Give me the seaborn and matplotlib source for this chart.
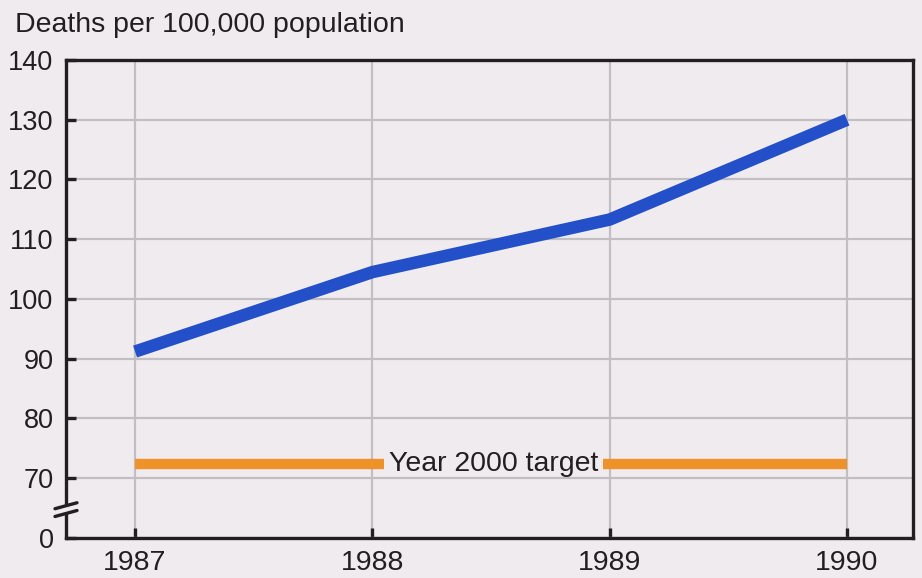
import matplotlib
matplotlib.use("Agg")
import matplotlib.pyplot as plt
import seaborn as sns
import pandas as pd

# Death rate per 100,000 population, 1987-1990
years = [1987, 1988, 1989, 1990]
deaths = [91.2, 104.5, 113.3, 130.0]

# Year 2000 target level
target_years = [1987, 1990]
target_value = 72.4
target_label = "Year 2000 target"

y_ticks = [60, 70, 80, 90, 100, 110, 120, 130, 140]
y_tick_labels = ["0", "70", "80", "90", "100", "110", "120", "130", "140"]
title = "Deaths per 100,000 population"

BG = "#efebee"
BLUE = "#2350c9"
ORANGE = "#f0922a"
GRID = "#c2bfc2"
INK = "#231f20"

sns.set_theme(style="white")
plt.rcParams["font.family"] = ["Liberation Sans", "DejaVu Sans"]

fig = plt.figure(figsize=(9.22, 5.78), dpi=100, facecolor=BG)
ax = fig.add_axes([66 / 922, 1 - 538 / 578, (913 - 66) / 922, (538 - 60) / 578])
ax.set_facecolor(BG)

# Target line, interrupted where the label sits
gap = (1988.05, 1988.97)
target_df = pd.DataFrame({
    "year": [target_years[0], gap[0], gap[1], target_years[1]],
    "value": [target_value] * 4,
    "part": ["a", "a", "b", "b"],
})
sns.lineplot(data=target_df, x="year", y="value", units="part", estimator=None,
             color=ORANGE, linewidth=7.5, ax=ax, zorder=3,
             solid_capstyle="butt")
ax.text((gap[0] + gap[1]) / 2, target_value, target_label, ha="center",
        va="center", fontsize=20.5, color=INK, zorder=4)

# Death rate line
rate_df = pd.DataFrame({"year": years, "deaths": deaths})
sns.lineplot(data=rate_df, x="year", y="deaths", color=BLUE, linewidth=9,
             ax=ax, zorder=5, solid_capstyle="butt", solid_joinstyle="round")

ax.set_xlim(1986.709, 1990.278)
ax.set_ylim(60, 140)
ax.set_xticks(years)
ax.set_xticklabels([str(y) for y in years])
ax.set_yticks(y_ticks)
ax.set_yticklabels(y_tick_labels)
ax.set_xlabel("")
ax.set_ylabel("")

ax.grid(True, color=GRID, linewidth=1.6, zorder=1)
ax.set_axisbelow(True)

for side in ["left", "right", "top", "bottom"]:
    ax.spines[side].set_visible(True)
    ax.spines[side].set_color(INK)
    ax.spines[side].set_linewidth(2.4)

ax.tick_params(axis="both", direction="in", length=7, width=2.4,
               color=INK, labelcolor=INK)
ax.tick_params(axis="y", pad=9, left=True, labelsize=19.5)
ax.tick_params(axis="x", pad=9, bottom=True, labelsize=20.5)

# Axis break marks on the left spine
trans = ax.get_yaxis_transform()
mask_lo, mask_hi = 64.4, 65.6
ax.plot([0, 0], [mask_lo, mask_hi], transform=trans, color=BG, linewidth=4,
        clip_on=False, zorder=6, solid_capstyle="butt")
dx = 11 / (913 - 66)
for yc in (5.4 + 60, 4.1 + 60):
    ax.plot([-dx, dx], [yc - 0.5, yc + 0.5], transform=trans,
            color=INK, linewidth=2.4, clip_on=False, zorder=7)

fig.text(15 / 922, 1 - 32 / 578, title, fontsize=20.5, color=INK,
         ha="left", va="baseline")

fig.savefig("out.png", dpi=100, facecolor=BG)
